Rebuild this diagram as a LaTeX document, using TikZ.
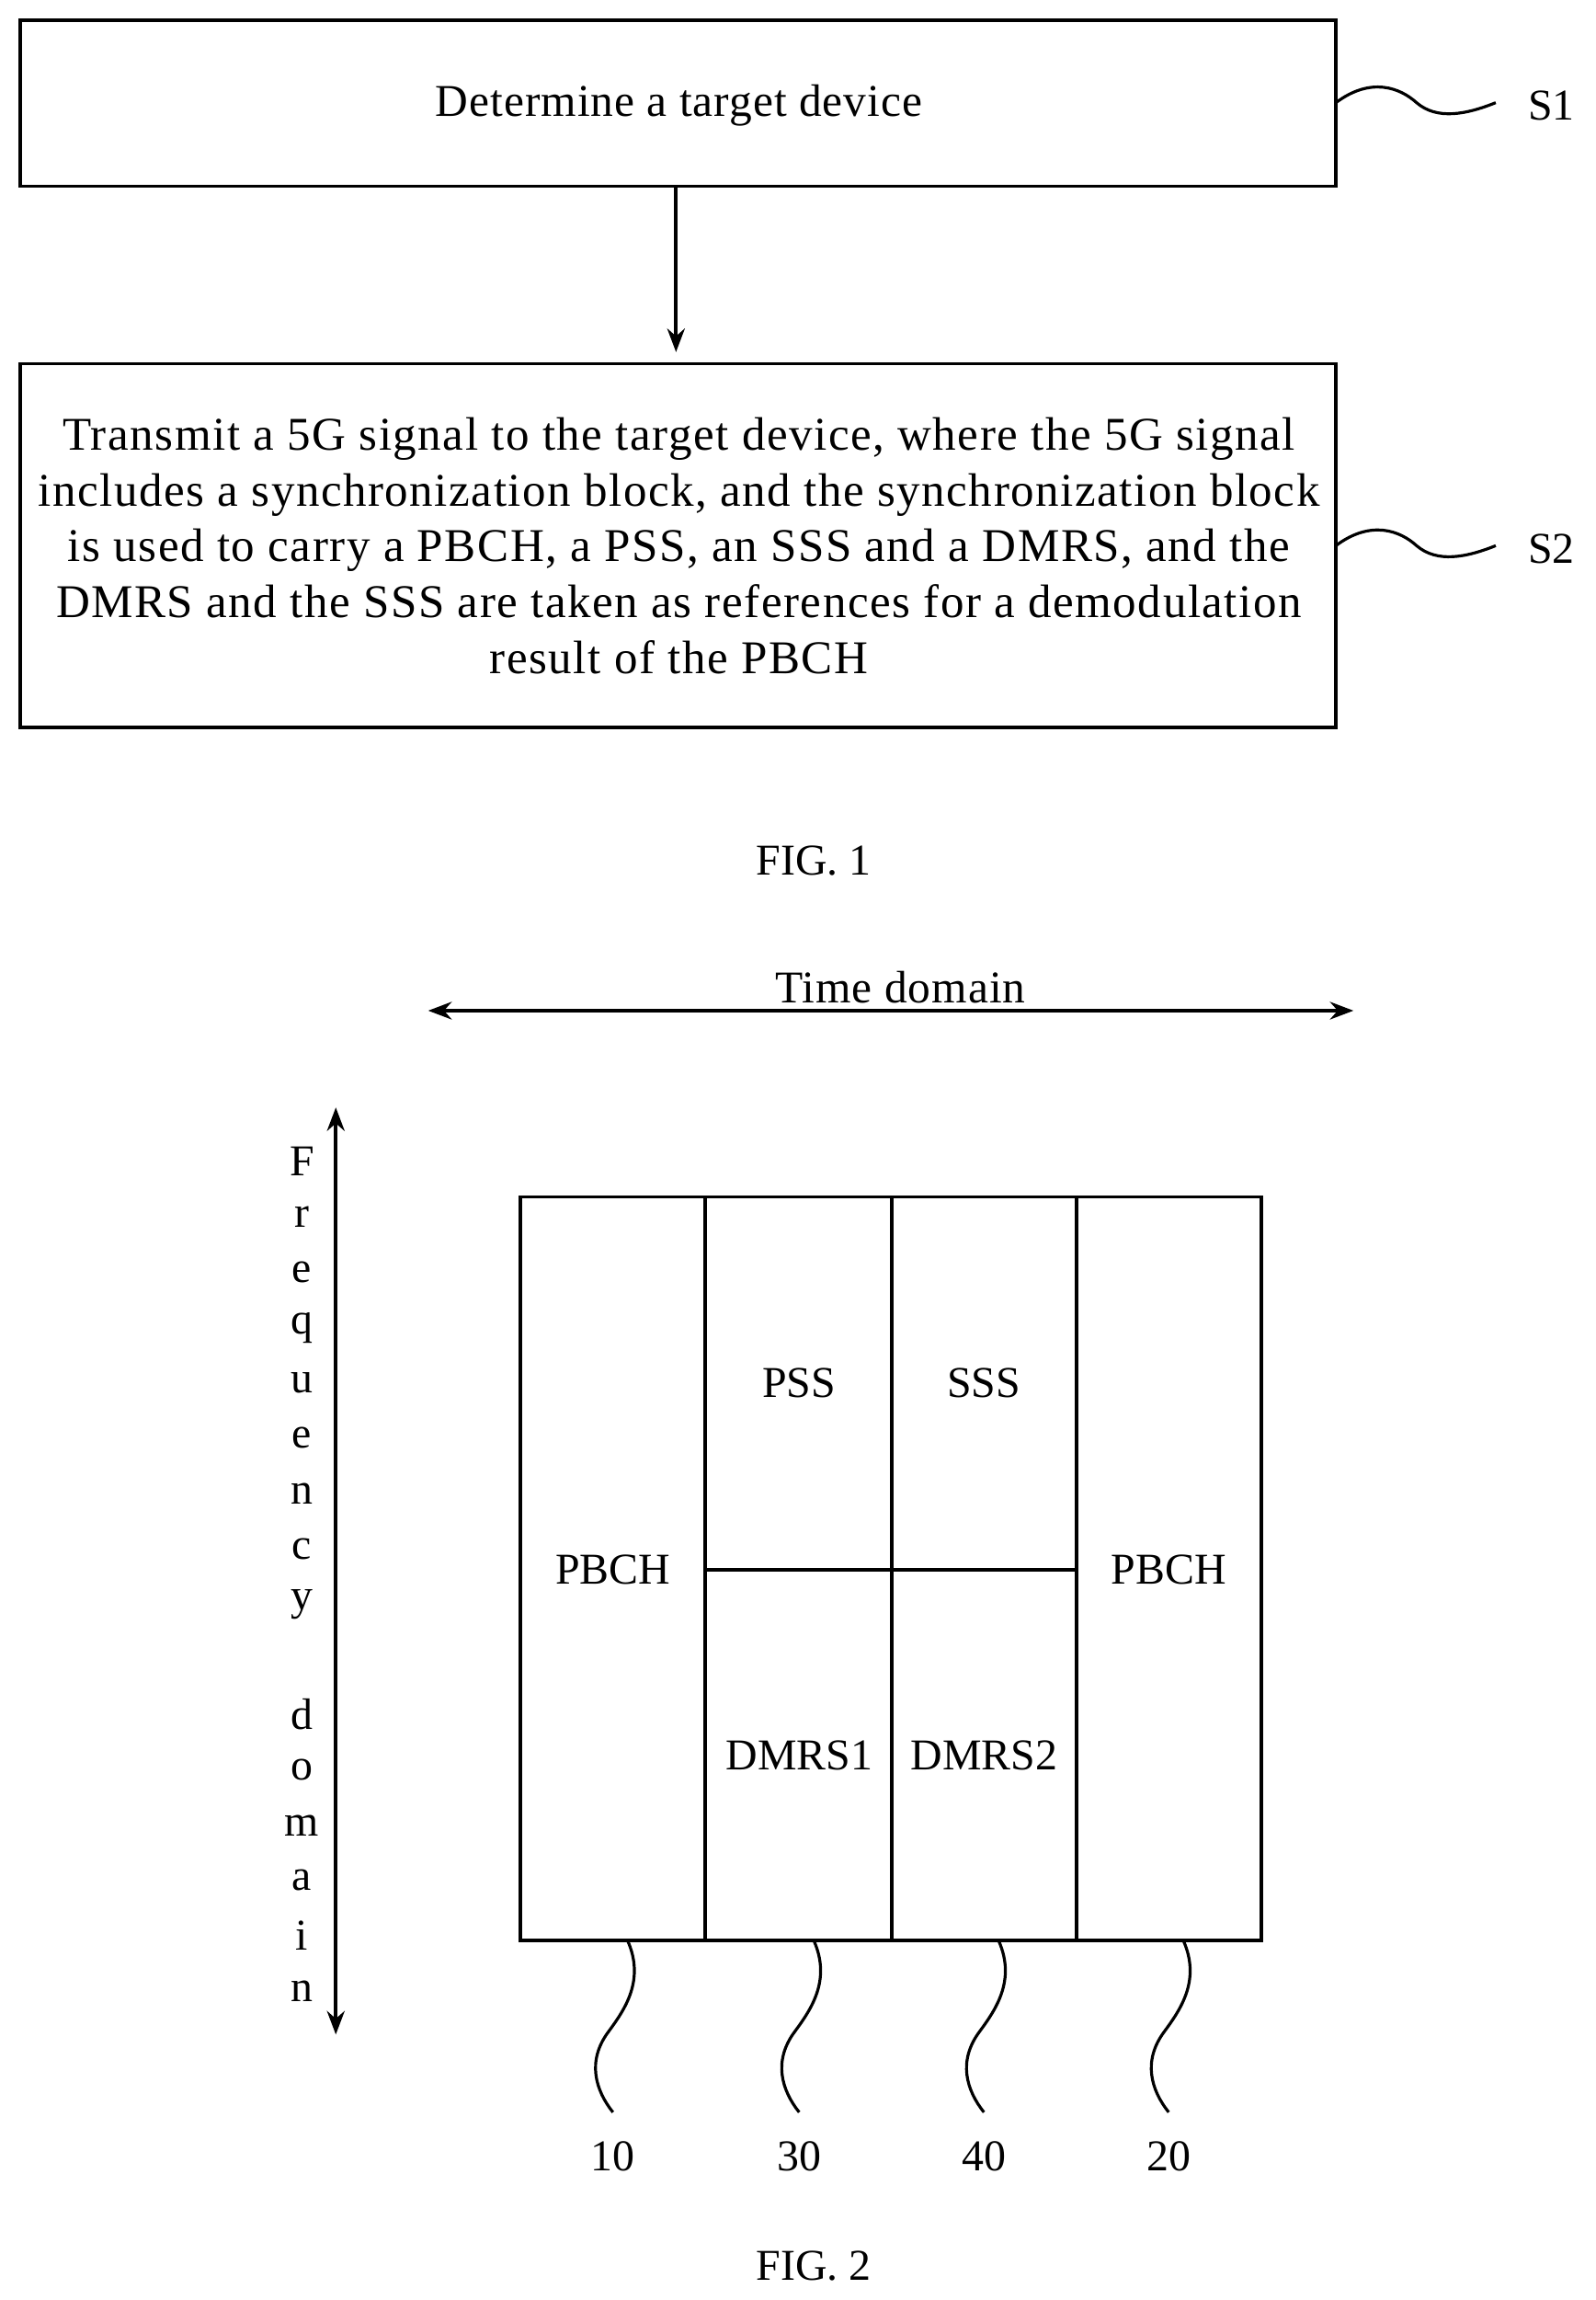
\documentclass[tikz,border=0pt]{standalone}
\usepackage{fontspec}
\setmainfont{Liberation Serif}
\usetikzlibrary{arrows.meta}
\begin{document}
\begin{tikzpicture}[x=0.5pt,y=-0.5pt,
  box/.style={draw,line width=1.2pt},
  lbl/.style={font=\fontsize{15}{19}\selectfont,inner sep=0},
  wav/.style={line width=1pt},
  arr/.style={line width=1.2pt,-{Stealth[length=8pt,width=6pt]}}]
\useasboundingbox (0,0) rectangle (1088,1568);
\draw[box] (14,14) rectangle (911,127);
\node[lbl,font=\fontsize{15.5}{19}\selectfont\addfontfeature{LetterSpace=2}] (t1) at (463,72) {Determine a target device};
\draw[box] (14,248) rectangle (911,496);
\node[lbl,align=center,font=\fontsize{16}{19}\selectfont\addfontfeature{LetterSpace=3}] (t2) at (463,372) {Transmit a 5G signal to the target device, where the 5G signal\\includes a synchronization block, and the synchronization block\\is used to carry a PBCH, a PSS, an SSS and a DMRS, and the\\DMRS and the SSS are taken as references for a demodulation\\result of the PBCH};
\coordinate (a1) at (461,127); \coordinate (a2) at (461,240);
\draw[arr] (a1) -- (a2);
\foreach \y/\s in {70/S1,372/S2}{
  \draw[wav] (911,\y) .. controls (935,\y-18) and (955,\y-10) .. (966,\y) .. controls (980,\y+12) and (1000,\y+8) .. (1020,\y);
  \node[lbl] at (1058,\y+2) {\s};}
\node[lbl] (f1) at (555,587) {FIG. 1};
\coordinate (tl) at (292,689); \coordinate (tr) at (923,689);
\draw[arr,{Stealth[length=8pt,width=6pt]}-{Stealth[length=8pt,width=6pt]}] (tl) -- (tr);
\node[lbl,font=\fontsize{15.5}{19}\selectfont\addfontfeature{LetterSpace=2}] (td) at (614,673) {Time domain};
\coordinate (fu) at (229,755); \coordinate (fd) at (229,1387);
\draw[arr,{Stealth[length=8pt,width=6pt]}-{Stealth[length=8pt,width=6pt]}] (fu) -- (fd);
\foreach \c [count=\i from 0] in {F,r,e,q,u,e,n,c,y,{},d,o,m,a,i,n}
  \node[lbl] at (206,792+37.7*\i) {\c};
\draw[box] (355,816) rectangle (860,1323);
\draw[box] (481,816) -- (481,1323) (608,816) -- (608,1323) (734,816) -- (734,1323) (481,1070) -- (734,1070);
\node[lbl] at (418,1070) {PBCH};
\node[lbl] at (545,943) {PSS};
\node[lbl] at (671,943) {SSS};
\node[lbl] at (545,1197) {DMRS1};
\node[lbl] at (671,1197) {DMRS2};
\node[lbl] at (797,1070) {PBCH};
\foreach \x/\n in {418/10,545/30,671/40,797/20}{
  \draw[wav] (\x+10,1323) .. controls (\x+22,1350) and (\x+8,1370) .. (\x-3,1385) .. controls (\x-18,1405) and (\x-12,1425) .. (\x,1440);
  \node[lbl] at (\x,1470) {\n};}
\node[lbl] (f2) at (555,1545) {FIG. 2};
\end{tikzpicture}
\end{document}
